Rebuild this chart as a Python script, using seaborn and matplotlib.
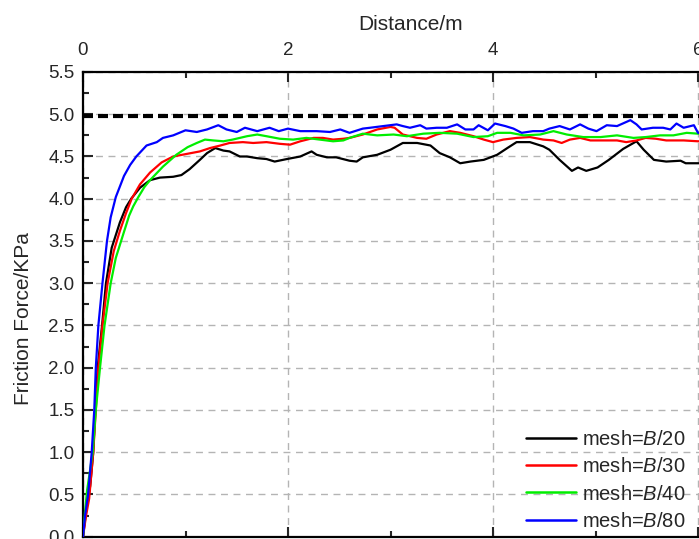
import matplotlib
matplotlib.use("Agg")
import matplotlib.pyplot as plt
from matplotlib.ticker import MultipleLocator, FormatStrFormatter
import seaborn as sns
import pandas as pd

# Friction force along the sliding distance for four mesh sizes
dist_b20 = [0, 0.03, 0.055, 0.07, 0.10, 0.12, 0.143, 0.186, 0.224, 0.28, 0.36, 0.42,
            0.47, 0.556, 0.654, 0.75, 0.88, 0.96, 1.04, 1.14, 1.21, 1.29, 1.37, 1.43,
            1.53, 1.60, 1.70, 1.79, 1.87, 1.99, 2.12, 2.23, 2.28, 2.38, 2.47, 2.60,
            2.67, 2.73, 2.87, 3.00, 3.12, 3.26, 3.39, 3.48, 3.58, 3.68, 3.78, 3.91,
            4.04, 4.14, 4.23, 4.36, 4.49, 4.55, 4.65, 4.77, 4.83, 4.91, 5.02, 5.13,
            5.27, 5.40, 5.47, 5.57, 5.69, 5.83, 5.88, 6.00, 6.40]
force_b20 = [0, 0.30, 0.49, 0.60, 1.0, 1.5, 2.0, 2.5, 3.0, 3.42, 3.72, 3.90,
             4.0, 4.13, 4.22, 4.25, 4.26, 4.28, 4.35, 4.46, 4.54, 4.60, 4.57, 4.56,
             4.50, 4.50, 4.48, 4.47, 4.44, 4.47, 4.50, 4.56, 4.52, 4.49, 4.49, 4.45,
             4.44, 4.49, 4.52, 4.58, 4.66, 4.66, 4.63, 4.54, 4.49, 4.42, 4.44, 4.46,
             4.52, 4.60, 4.67, 4.67, 4.62, 4.58, 4.46, 4.33, 4.37, 4.33, 4.37, 4.46,
             4.59, 4.68, 4.58, 4.46, 4.44, 4.45, 4.42, 4.42, 4.42]

dist_b30 = [0, 0.03, 0.06, 0.10, 0.125, 0.15, 0.19, 0.24, 0.30, 0.36, 0.42, 0.475,
            0.556, 0.654, 0.767, 0.88, 1.01, 1.14, 1.24, 1.34, 1.43, 1.56, 1.66, 1.79,
            1.92, 2.02, 2.12, 2.25, 2.34, 2.44, 2.54, 2.60, 2.73, 2.87, 3.00, 3.04,
            3.12, 3.26, 3.35, 3.45, 3.58, 3.68, 3.81, 3.91, 4.00, 4.10, 4.23, 4.36,
            4.49, 4.59, 4.67, 4.75, 4.85, 4.95, 5.08, 5.21, 5.30, 5.40, 5.49, 5.59,
            5.69, 5.86, 6.00, 6.40]
force_b30 = [0, 0.25, 0.45, 1.0, 1.5, 2.0, 2.5, 3.0, 3.38, 3.62, 3.83, 4.0,
             4.17, 4.31, 4.43, 4.50, 4.53, 4.56, 4.60, 4.63, 4.66, 4.67, 4.66, 4.67,
             4.65, 4.64, 4.68, 4.72, 4.72, 4.70, 4.71, 4.72, 4.76, 4.82, 4.85, 4.84,
             4.76, 4.72, 4.71, 4.76, 4.80, 4.78, 4.74, 4.70, 4.67, 4.70, 4.72, 4.73,
             4.70, 4.69, 4.66, 4.70, 4.72, 4.69, 4.69, 4.69, 4.67, 4.69, 4.72, 4.71,
             4.69, 4.69, 4.68, 4.68]

dist_b40 = [0, 0.02, 0.04, 0.095, 0.125, 0.166, 0.21, 0.27, 0.32, 0.39, 0.45, 0.49,
            0.54, 0.60, 0.654, 0.78, 0.91, 1.02, 1.11, 1.19, 1.27, 1.37, 1.46, 1.60,
            1.70, 1.79, 1.92, 2.05, 2.18, 2.31, 2.44, 2.54, 2.60, 2.73, 2.87, 3.03,
            3.16, 3.32, 3.48, 3.65, 3.81, 3.95, 4.04, 4.17, 4.30, 4.46, 4.59, 4.72,
            4.88, 5.05, 5.21, 5.37, 5.49, 5.63, 5.76, 5.89, 6.00, 6.40]
force_b40 = [0, 0.30, 0.55, 1.0, 1.5, 2.0, 2.5, 3.0, 3.30, 3.57, 3.80, 3.91,
             4.02, 4.14, 4.22, 4.38, 4.52, 4.61, 4.66, 4.70, 4.69, 4.68, 4.70, 4.74,
             4.76, 4.74, 4.71, 4.70, 4.72, 4.70, 4.68, 4.69, 4.72, 4.77, 4.75, 4.76,
             4.74, 4.77, 4.78, 4.77, 4.73, 4.74, 4.78, 4.78, 4.75, 4.76, 4.80, 4.76,
             4.73, 4.73, 4.75, 4.72, 4.73, 4.75, 4.75, 4.78, 4.77, 4.77]

dist_b80 = [0, 0.02, 0.05, 0.085, 0.11, 0.125, 0.15, 0.19, 0.234, 0.27, 0.32, 0.40,
            0.46, 0.52, 0.62, 0.72, 0.78, 0.88, 1.00, 1.11, 1.21, 1.32, 1.40, 1.50,
            1.58, 1.70, 1.82, 1.91, 2.00, 2.12, 2.28, 2.41, 2.51, 2.60, 2.73, 2.80,
            2.93, 3.06, 3.12, 3.19, 3.29, 3.35, 3.45, 3.55, 3.65, 3.73, 3.81, 3.86,
            3.95, 4.02, 4.12, 4.20, 4.28, 4.39, 4.49, 4.55, 4.65, 4.75, 4.85, 4.93,
            5.01, 5.11, 5.21, 5.34, 5.40, 5.45, 5.56, 5.66, 5.73, 5.79, 5.86, 5.96,
            6.00, 6.40]
force_b80 = [0, 0.25, 0.5, 1.0, 1.5, 2.0, 2.5, 3.0, 3.5, 3.78, 4.02, 4.27,
             4.40, 4.50, 4.63, 4.67, 4.72, 4.75, 4.81, 4.79, 4.82, 4.87, 4.82, 4.79,
             4.84, 4.80, 4.84, 4.80, 4.83, 4.80, 4.80, 4.79, 4.82, 4.78, 4.83, 4.84,
             4.86, 4.88, 4.86, 4.84, 4.87, 4.83, 4.84, 4.84, 4.88, 4.82, 4.82, 4.87,
             4.81, 4.89, 4.86, 4.83, 4.78, 4.80, 4.80, 4.83, 4.86, 4.82, 4.88, 4.83,
             4.80, 4.87, 4.86, 4.93, 4.88, 4.82, 4.84, 4.84, 4.82, 4.89, 4.84, 4.87,
             4.78, 4.80]

mesh_labels = [r"mesh=$B$/20", r"mesh=$B$/30", r"mesh=$B$/40", r"mesh=$B$/80"]
mesh_colors = ["#000000", "#ff0000", "#00ee00", "#0000ff"]
reference_force = 4.98

series = [(dist_b20, force_b20), (dist_b30, force_b30),
          (dist_b40, force_b40), (dist_b80, force_b80)]
df = pd.concat(
    [pd.DataFrame({"distance": d, "force": f, "mesh": lab})
     for (d, f), lab in zip(series, mesh_labels)],
    ignore_index=True,
)

sns.set_theme(style="ticks")
plt.rcParams["font.family"] = ["Liberation Sans", "DejaVu Sans"]
plt.rcParams["mathtext.fontset"] = "custom"
plt.rcParams["mathtext.rm"] = "Liberation Sans"
plt.rcParams["mathtext.it"] = "Liberation Sans:italic"

fig = plt.figure(figsize=(6.99, 5.39), dpi=100)
W, H = 699, 539
x_unit = 102.5
ax = fig.add_axes([83 / W, 2.3 / H, 6.4 * x_unit / W, (536.7 - 72) / H])

sns.lineplot(data=df, x="distance", y="force", hue="mesh",
             palette=dict(zip(mesh_labels, mesh_colors)), hue_order=mesh_labels,
             sort=False, estimator=None, lw=1.6, ax=ax, zorder=3)

ax.axhline(reference_force, color="black", lw=3.0, dashes=(2.4, 1.2), zorder=4)

ax.set_xlim(0, 6.4)
ax.set_ylim(0, 5.5)
ax.xaxis.set_major_locator(MultipleLocator(2))
ax.xaxis.set_minor_locator(MultipleLocator(1))
ax.yaxis.set_major_locator(MultipleLocator(0.5))
ax.yaxis.set_minor_locator(MultipleLocator(0.25))
ax.yaxis.set_major_formatter(FormatStrFormatter("%.1f"))

ax.xaxis.set_label_position("top")
ax.tick_params(axis="x", which="both", top=True, bottom=True,
               labeltop=True, labelbottom=False, direction="in")
ax.tick_params(axis="y", which="both", left=True, right=False, direction="in")
ax.tick_params(which="major", length=7, width=1.5, labelsize=13.5, pad=9)
ax.tick_params(which="minor", length=4, width=1.5)
ax.tick_params(axis="y", which="major", pad=6)

for side in ["top", "bottom", "left", "right"]:
    ax.spines[side].set_linewidth(1.6)
    ax.spines[side].set_color("black")

ax.grid(which="major", color="#b4b4b4", lw=1.0, ls=(0, (5, 4)))
ax.set_axisbelow(True)

ax.set_xlabel("Distance/m", fontsize=15, labelpad=9)
ax.set_ylabel("Friction Force/KPa", fontsize=15)
ax.yaxis.set_label_coords(-0.076, 0.47)

handles, labels = ax.get_legend_handles_labels()
leg = ax.legend(handles, labels, loc="lower right",
                bbox_to_anchor=(686 / W, 8 / H), bbox_transform=fig.transFigure,
                frameon=False, fontsize=14.5, handlelength=2.5, handletextpad=0.3,
                labelspacing=0.42, borderpad=0, borderaxespad=0)
for line in leg.get_lines():
    line.set_linewidth(1.8)

fig.savefig("out.png", dpi=100)
